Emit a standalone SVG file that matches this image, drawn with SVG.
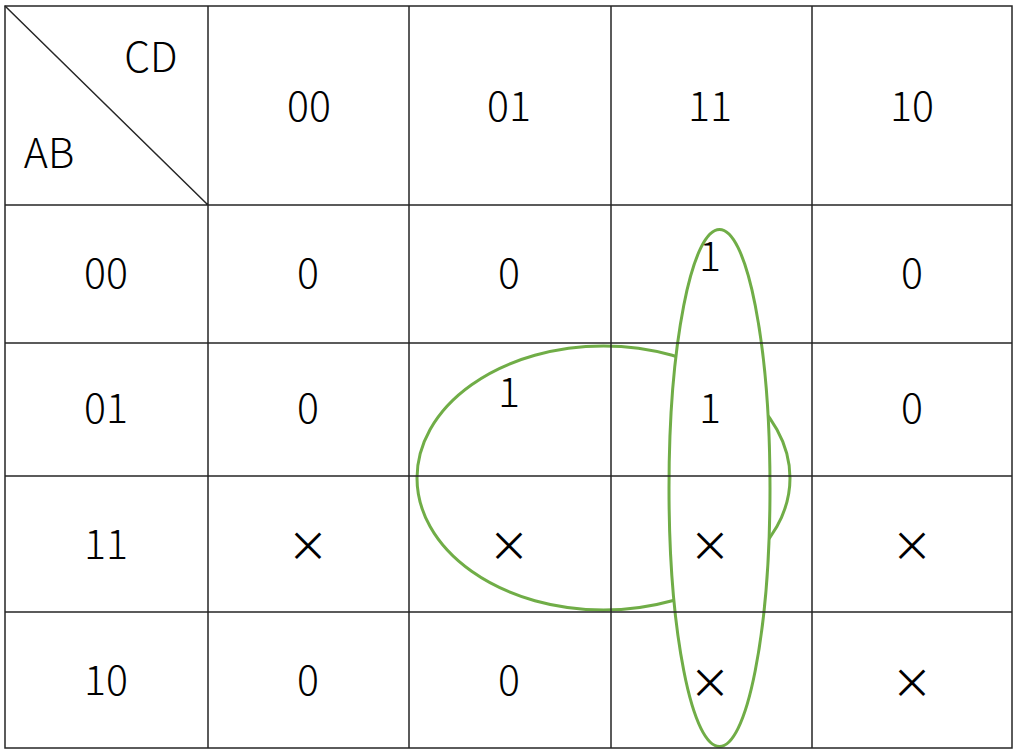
<svg xmlns="http://www.w3.org/2000/svg" width="1020" height="754" viewBox="0 0 1020 754">
<style>
.g{stroke:#262626;stroke-width:1.5;fill:none}
.t{font-family:"Noto Sans CJK SC","Noto Sans",sans-serif;font-weight:300;font-size:41px;fill:#000;text-anchor:middle}
.x{font-weight:400}
.loop{stroke:#70AD47;stroke-width:3}
</style>
<rect width="1020" height="754" fill="#fff"/>
<g id="loops">
<ellipse id="loop-h" class="loop" cx="603.5" cy="478" rx="186.5" ry="132" fill="none"/>
<ellipse id="loop-v" class="loop" cx="719.5" cy="488" rx="50.5" ry="258.5" fill="#fff"/>
</g>
<g id="grid" class="g">
<rect x="5" y="6" width="1007" height="742"/>
<path d="M208 6V748M409 6V748M611 6V748M812 6V748M5 205H1012M5 343H1012M5 476H1012M5 612H1012M5 6L208 205"/>
</g>
<g id="labels" class="t">
<text x="151" y="72">CD</text>
<text x="49" y="168">AB</text>
<text x="309" y="121">00</text>
<text x="509" y="121">01</text>
<text x="710" y="121">11</text>
<text x="912" y="121">10</text>
<text x="106" y="288">00</text>
<text x="106" y="423">01</text>
<text x="106" y="559">11</text>
<text x="106" y="695">10</text>
</g>
<g id="cells" class="t">
<text x="308" y="288">0</text>
<text x="509" y="288">0</text>
<text x="710" y="271">1</text>
<text x="912" y="288">0</text>
<text x="308" y="423">0</text>
<text x="509" y="407">1</text>
<text x="710" y="423">1</text>
<text x="912" y="423">0</text>
<text class="x" x="308" y="561">×</text>
<text class="x" x="509" y="561">×</text>
<text class="x" x="710" y="561">×</text>
<text class="x" x="912" y="561">×</text>
<text x="308" y="695">0</text>
<text x="509" y="695">0</text>
<text class="x" x="710" y="698">×</text>
<text class="x" x="912" y="698">×</text>
</g>
</svg>
